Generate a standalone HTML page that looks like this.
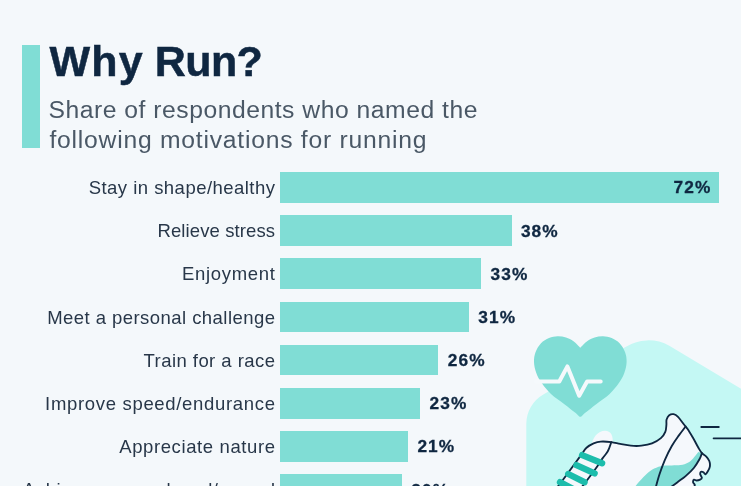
<!DOCTYPE html>
<html lang="en">
<head>
<meta charset="utf-8">
<title>Why Run?</title>
<style>
  html, body { margin: 0; padding: 0; }
  body {
    width: 741px; height: 486px; overflow: hidden; position: relative;
    background: #f4f8fb;
    font-family: "Liberation Sans", sans-serif;
    color: #0f2741;
  }
  .accent { position: absolute; left: 22.2px; top: 45px; width: 17.4px; height: 102.5px; background: #80ddd5; }
  h1 {
    position: absolute; left: 49.4px; top: 37px; margin: 0;
    font-size: 43px; line-height: 48px; font-weight: bold; color: #0f2741;
    white-space: nowrap; letter-spacing: 0.2px; -webkit-text-stroke: 0.5px #0f2741;
  }
  .sub {
    position: absolute; left: 48.5px; top: 95px; margin: 0;
    font-size: 24.7px; line-height: 29.5px; color: #4a5866; white-space: nowrap;
  }
  .row { position: absolute; left: 0; height: 31px; width: 741px; }
  .label {
    position: absolute; right: 466px; top: 1px; height: 30.7px; line-height: 30.7px;
    font-size: 18.5px; color: #283749; white-space: nowrap; text-align: right;
  }
  .bar { position: absolute; left: 280px; top: 0; height: 30.7px; background: #80ddd5; }
  .val {
    position: absolute; top: 0; height: 30.7px; line-height: 30.7px;
    font-size: 17.3px; font-weight: bold; color: #0f2741; white-space: nowrap; letter-spacing: 1.1px; margin-top: 0.4px; -webkit-text-stroke: 0.3px #0f2741;
  }
  svg.art { position: absolute; left: 0; top: 0; }
</style>
</head>
<body>
  <svg class="art" width="741" height="486" viewBox="0 0 741 486">
    <path d="M526.3 500 L526.3 424 A34 34 0 0 1 543.3 394.4 L625.0 347.2 A43.6 43.6 0 0 1 669.3 345.7 L760 400.1 L760 500 Z" fill="#c4f8f4"/>
    <path d="M580.3 347.8 C579.2 346.7 575.9 343.0 573.5 341.3 C571.1 339.6 568.7 338.3 566.0 337.5 C563.3 336.7 560.3 336.2 557.5 336.3 C554.7 336.4 551.8 336.9 549.0 338.0 C546.2 339.1 543.2 340.9 541.0 343.2 C538.8 345.5 536.8 348.9 535.6 352.0 C534.4 355.1 533.9 358.5 534.0 362.0 C534.1 365.5 535.0 369.4 536.3 373.0 C537.6 376.6 539.4 379.8 541.9 383.3 C544.4 386.8 547.2 390.5 551.0 394.0 C554.8 397.5 560.4 401.2 564.4 404.3 C568.4 407.4 572.8 410.8 575.0 412.6 C577.2 414.4 576.7 414.2 577.6 414.9 C578.5 415.6 579.4 416.8 580.3 416.8 C581.2 416.8 582.1 415.6 583.0 414.9 C583.9 414.2 583.4 414.4 585.6 412.6 C587.8 410.8 592.2 407.4 596.2 404.3 C600.2 401.2 605.8 397.5 609.6 394.0 C613.3 390.5 616.2 386.8 618.7 383.3 C621.1 379.8 623.0 376.6 624.3 373.0 C625.6 369.4 626.5 365.5 626.6 362.0 C626.7 358.5 626.2 355.1 625.0 352.0 C623.8 348.9 621.8 345.5 619.6 343.2 C617.4 340.9 614.3 339.1 611.6 338.0 C608.8 336.9 605.9 336.4 603.1 336.3 C600.3 336.2 597.3 336.7 594.6 337.5 C591.9 338.3 589.5 339.6 587.1 341.3 C584.7 343.0 581.4 346.7 580.3 347.8 Z" fill="#80ddd5"/>
    <path d="M536 381.5 L559.3 381.5 L567.4 366.4 L579.2 395.8 L587.1 381.5 L600.7 381.5" fill="none" stroke="#f5f9fc" stroke-width="4" stroke-linecap="round" stroke-linejoin="round"/>
    <path d="M591.5 446 C592 438 598 430.8 605 430.8 C611 430.8 613.5 436 612.5 444 Z" fill="#f5f8fc"/>
    <path d="M552.0 494.0 C553.6 491.9 558.5 485.8 561.8 481.4 C565.1 477.0 568.8 471.9 572.0 467.5 C575.2 463.1 578.8 458.2 581.2 454.9 C583.6 451.6 584.4 449.7 586.5 447.8 C588.6 445.9 591.2 444.4 593.6 443.4 C596.0 442.4 597.8 441.8 600.7 441.6 C603.7 441.4 608.0 441.7 611.3 442.1 C614.5 442.5 617.0 443.3 620.2 443.9 C623.5 444.5 627.3 445.4 630.8 445.7 C634.3 446.0 637.9 446.1 641.4 445.7 C644.9 445.3 648.8 444.7 652.0 443.4 C655.2 442.1 658.7 440.0 660.9 438.1 C663.1 436.2 664.4 434.1 665.3 431.9 C666.2 429.7 666.2 426.9 666.4 424.8 C666.6 422.7 666.1 421.1 666.6 419.5 C667.1 417.9 668.0 416.1 669.2 415.2 C670.4 414.3 672.1 413.9 673.6 414.2 C675.1 414.5 676.2 415.0 678.0 416.8 C679.8 418.6 682.6 422.7 684.2 424.8 C685.8 426.9 686.3 427.0 687.8 429.2 C689.3 431.4 691.3 434.9 693.1 438.0 C694.9 441.1 696.9 445.3 698.4 447.8 C699.9 450.3 700.6 451.6 701.9 453.1 C703.2 454.6 705.1 455.3 706.3 456.6 C707.5 457.9 708.7 459.4 709.3 461.0 C709.9 462.6 710.1 464.7 709.9 466.3 C709.7 467.9 708.8 469.5 708.1 470.8 C707.4 472.1 706.3 474.1 705.5 474.3 C704.7 474.6 704.2 472.7 703.5 472.3 C702.8 471.9 701.5 471.5 701.0 471.8 C700.5 472.1 700.1 473.3 700.2 474.3 C700.4 475.3 701.9 476.9 701.9 477.8 C701.9 478.7 701.0 479.2 700.1 479.6 C699.2 480.1 697.6 480.5 696.6 480.5 C695.6 480.5 694.6 479.3 694.0 479.6 C693.4 479.9 693.0 481.4 693.1 482.3 C693.2 483.2 694.8 484.1 694.8 485.0 C694.8 485.9 693.8 487.2 693.0 488.0 C692.2 488.8 690.5 489.7 690.0 490.0 L552 494 Z" fill="#f5f8fc"/>
    <path d="M698.2 452.0 C697.4 453.1 694.8 456.6 693.1 458.4 C691.4 460.2 689.9 461.7 687.8 462.8 C685.7 463.9 683.4 464.7 680.7 465.1 C678.0 465.6 674.8 465.4 671.8 465.5 C668.8 465.6 665.9 465.3 663.0 465.8 C660.1 466.3 656.9 467.3 654.2 468.6 C651.6 469.9 649.5 471.5 647.1 473.5 C644.7 475.5 642.2 478.4 640.0 480.8 C637.8 483.2 635.0 486.8 634.0 488.0 L669.0 488.5 C670.4 487.5 674.4 484.5 677.2 482.4 C680.0 480.3 682.8 478.5 685.6 476.1 C688.4 473.7 691.5 470.9 693.8 468.0 C696.1 465.1 698.2 461.5 699.6 459.0 C701.0 456.5 701.5 454.1 701.9 453.1 Z" fill="#80ddd5"/>
    <g fill="none" stroke="#0f2741" stroke-width="1.85" stroke-linecap="round" stroke-linejoin="round">
    <path d="M552.0 494.0 C553.6 491.9 558.5 485.8 561.8 481.4 C565.1 477.0 568.8 471.9 572.0 467.5 C575.2 463.1 578.8 458.2 581.2 454.9 C583.6 451.6 584.4 449.7 586.5 447.8 C588.6 445.9 591.2 444.4 593.6 443.4 C596.0 442.4 597.8 441.8 600.7 441.6 C603.7 441.4 608.0 441.7 611.3 442.1 C614.5 442.5 617.0 443.3 620.2 443.9 C623.5 444.5 627.3 445.4 630.8 445.7 C634.3 446.0 637.9 446.1 641.4 445.7 C644.9 445.3 648.8 444.7 652.0 443.4 C655.2 442.1 658.7 440.0 660.9 438.1 C663.1 436.2 664.4 434.1 665.3 431.9 C666.2 429.7 666.2 426.9 666.4 424.8 C666.6 422.7 666.1 421.1 666.6 419.5 C667.1 417.9 668.0 416.1 669.2 415.2 C670.4 414.3 672.1 413.9 673.6 414.2 C675.1 414.5 676.2 415.0 678.0 416.8 C679.8 418.6 682.6 422.7 684.2 424.8 C685.8 426.9 686.3 427.0 687.8 429.2 C689.3 431.4 691.3 434.9 693.1 438.0 C694.9 441.1 696.9 445.3 698.4 447.8 C699.9 450.3 700.6 451.6 701.9 453.1 C703.2 454.6 705.1 455.3 706.3 456.6 C707.5 457.9 708.7 459.4 709.3 461.0 C709.9 462.6 710.1 464.7 709.9 466.3 C709.7 467.9 708.8 469.5 708.1 470.8 C707.4 472.1 706.3 474.1 705.5 474.3 C704.7 474.6 704.2 472.7 703.5 472.3 C702.8 471.9 701.5 471.5 701.0 471.8 C700.5 472.1 700.1 473.3 700.2 474.3 C700.4 475.3 701.9 476.9 701.9 477.8 C701.9 478.7 701.0 479.2 700.1 479.6 C699.2 480.1 697.6 480.5 696.6 480.5 C695.6 480.5 694.6 479.3 694.0 479.6 C693.4 479.9 693.0 481.4 693.1 482.3 C693.2 483.2 694.8 484.1 694.8 485.0 C694.8 485.9 693.8 487.2 693.0 488.0 C692.2 488.8 690.5 489.7 690.0 490.0"/>
    <path d="M701.9 453.1 C701.5 454.1 701.0 456.5 699.6 459.0 C698.2 461.5 696.1 465.1 693.8 468.0 C691.5 470.9 688.4 473.7 685.6 476.1 C682.8 478.5 680.0 480.3 677.2 482.4 C674.4 484.5 670.4 487.5 669.0 488.5"/>
    <path d="M685.6 426.5 C684.5 428.0 681.2 432.1 678.9 435.4 C676.6 438.6 674.1 441.9 671.8 446.0 C669.4 450.1 666.8 455.4 664.8 460.1 C662.8 464.8 661.0 469.7 659.5 474.3 C658.0 478.9 656.2 485.7 655.5 488.0"/>
    <path d="M611.3 442.1 C610.7 443.6 609.3 448.6 607.8 451.3 C606.3 454.0 604.6 455.4 602.5 458.4 C600.4 461.3 598.4 464.9 595.4 469.0 C592.4 473.1 587.2 480.0 584.8 483.2 C582.4 486.4 581.6 487.2 581.0 488.0"/>
    <path d="M701.3 427 L718.8 427 M713.6 438.3 L745 438.3"/>
    </g>
    <g fill="none" stroke="#1dbdac" stroke-width="6.4" stroke-linecap="round">
    <path d="M582.1 455.1 L602.1 463.3"/>
    <path d="M576.4 465.2 L594.6 473.4"/>
    <path d="M568.2 474 L584.5 482.2"/>
    <path d="M560 482.2 L575 490"/>
    </g>
  </svg>

  <div class="accent"></div>
  <h1><span style="letter-spacing:1.3px">Why</span><span style="letter-spacing:-1.2px"> </span><span style="letter-spacing:-0.6px">Run?</span></h1>
  <p class="sub"><span id="s1" style="letter-spacing:0.52px">Share of respondents who named the</span><br><span id="s2" style="letter-spacing:0.76px;padding-left:1px">following motivations for running</span></p>

  <div class="row" style="top:172.00px"><span class="label" id="l0" style="letter-spacing:0.47px;margin-right:-0.47px">Stay in shape/healthy</span><span class="bar" style="width:438.7px"></span><span class="val" style="left:673.5px">72%</span></div>
  <div class="row" style="top:215.17px"><span class="label" id="l1" style="letter-spacing:0.10px;margin-right:-0.10px">Relieve stress</span><span class="bar" style="width:231.5px"></span><span class="val" style="left:520.9px">38%</span></div>
  <div class="row" style="top:258.34px"><span class="label" id="l2" style="letter-spacing:0.71px;margin-right:-0.71px">Enjoyment</span><span class="bar" style="width:201.1px"></span><span class="val" style="left:490.5px">33%</span></div>
  <div class="row" style="top:301.51px"><span class="label" id="l3" style="letter-spacing:0.45px;margin-right:-0.45px">Meet a personal challenge</span><span class="bar" style="width:188.9px"></span><span class="val" style="left:478.3px">31%</span></div>
  <div class="row" style="top:344.68px"><span class="label" id="l4" style="letter-spacing:0.45px;margin-right:-0.45px">Train for a race</span><span class="bar" style="width:158.4px"></span><span class="val" style="left:447.8px">26%</span></div>
  <div class="row" style="top:387.85px"><span class="label" id="l5" style="letter-spacing:0.68px;margin-right:-0.68px">Improve speed/endurance</span><span class="bar" style="width:140.1px"></span><span class="val" style="left:429.5px">23%</span></div>
  <div class="row" style="top:431.02px"><span class="label" id="l6" style="letter-spacing:0.61px;margin-right:-0.61px">Appreciate nature</span><span class="bar" style="width:128.0px"></span><span class="val" style="left:417.4px">21%</span></div>
  <div class="row" style="top:474.19px"><span class="label" id="l7" style="letter-spacing:0.62px;margin-right:-0.62px">Achi<span style="letter-spacing:0.32px">eve personal goal/</span><span style="letter-spacing:1.6px;margin-right:-1px">award</span></span><span class="bar" style="width:121.9px"></span><span class="val" style="left:411.3px">20%</span></div>
</body>
</html>
